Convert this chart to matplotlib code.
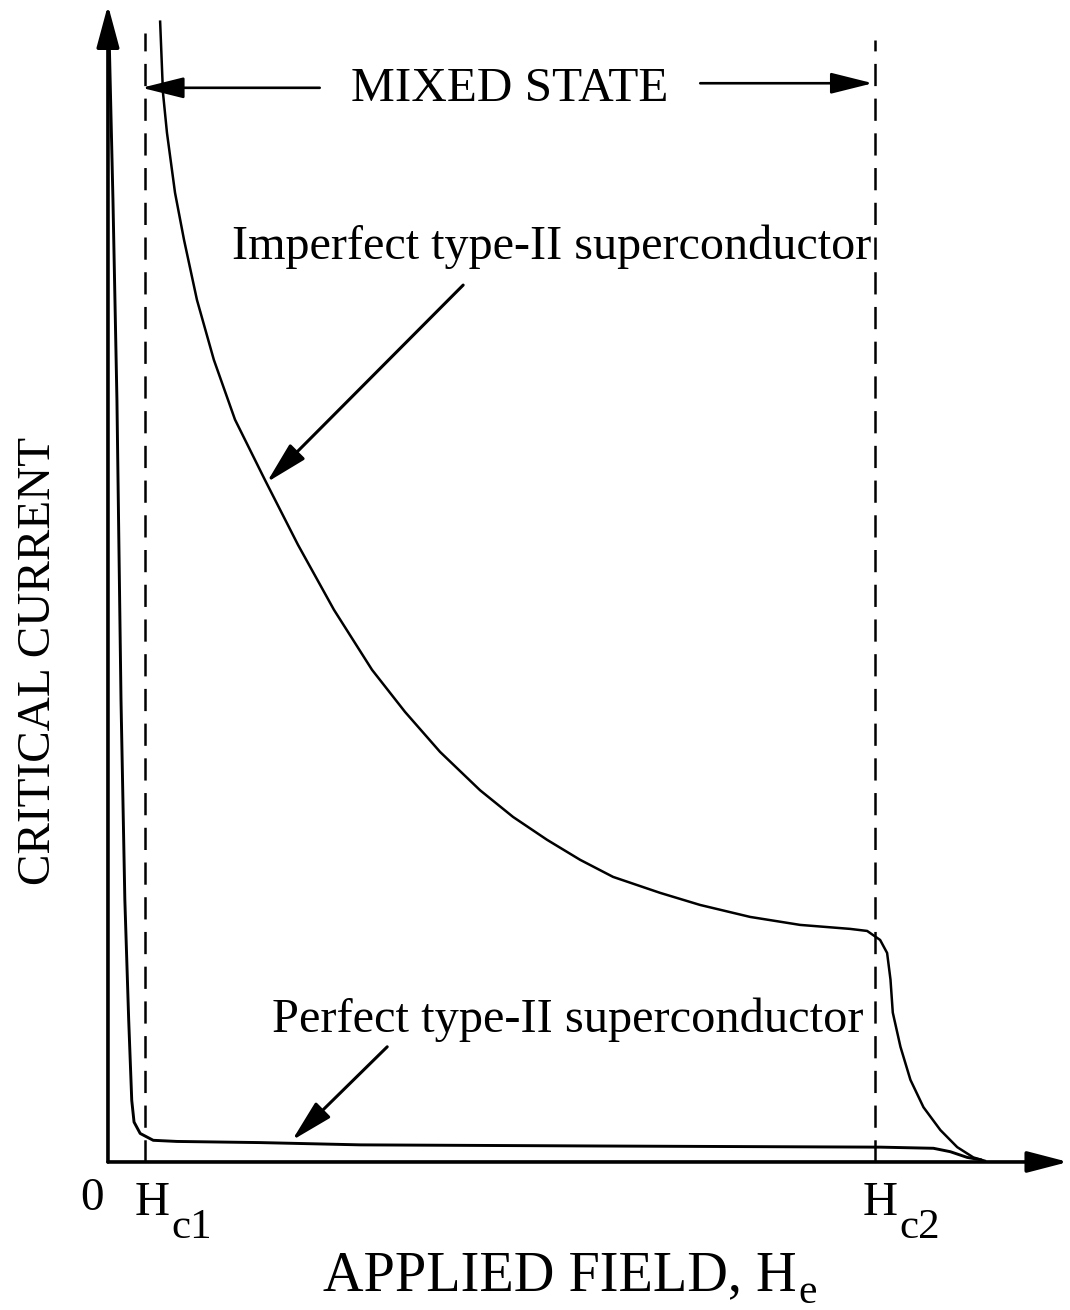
import numpy as np
import matplotlib.pyplot as plt

plt.rcParams['font.family'] = ['Liberation Serif', 'DejaVu Serif']
plt.rcParams['lines.scale_dashes'] = False

# applied field in units of Hc2, critical current in arbitrary units
hc1 = 0.048
hc2 = 1.0

imperfect_h = [0.068, 0.0717, 0.0769, 0.0874, 0.0991, 0.116, 0.138, 0.1656,
               0.2047, 0.2477, 0.2946, 0.3442, 0.3872, 0.4329, 0.485, 0.528,
               0.5724, 0.6154, 0.6584, 0.7197, 0.7718, 0.837, 0.9022, 0.9674,
               0.9896, 1.0065, 1.0156, 1.020, 1.023, 1.033, 1.046, 1.063,
               1.085, 1.107, 1.128, 1.143]
imperfect_j = [1.000, 0.9377, 0.9026, 0.850, 0.8088, 0.756, 0.7035, 0.651,
               0.598, 0.5412, 0.4842, 0.4316, 0.3947, 0.3596, 0.326, 0.3026,
               0.2825, 0.265, 0.250, 0.236, 0.2254, 0.2149, 0.2079, 0.2044,
               0.2026, 0.1947, 0.1833, 0.160, 0.131, 0.101, 0.072, 0.048,
               0.028, 0.013, 0.004, 0.001]

perfect_h = [0.001, 0.0065, 0.0117, 0.017, 0.022, 0.027, 0.031, 0.034, 0.042,
             0.059, 0.090, 0.198, 0.329, 0.641, 1.007, 1.076, 1.098, 1.120, 1.137]
perfect_j = [1.002, 0.844, 0.668, 0.405, 0.230, 0.125, 0.054, 0.035, 0.025,
             0.019, 0.018, 0.017, 0.015, 0.014, 0.013, 0.012, 0.009, 0.004, 0.002]

fig = plt.figure(figsize=(10.7, 13.1), dpi=100)
ax = fig.add_axes([0.1009, 0.1130, 0.8991, 0.8870])
ax.set_xlim(0, 1.254)
ax.set_ylim(0, 1.019)
ax.axis('off')

# axes with arrow heads
ax.annotate('', xy=(0, 1.0145), xytext=(0, 0),
            arrowprops=dict(arrowstyle='-|>,head_length=26,head_width=7',
                            mutation_scale=1, lw=2.6, color='black',
                            shrinkA=0, shrinkB=0))
ax.annotate('', xy=(1.2516, 0), xytext=(0, 0),
            arrowprops=dict(arrowstyle='-|>,head_length=25,head_width=6.5',
                            mutation_scale=1, lw=2.6, color='black',
                            shrinkA=0, shrinkB=0))

# critical fields
ax.plot([hc1, hc1], [0, 0.990], color='black', lw=1.8, ls=(0, (16, 9)),
        clip_on=False)
ax.plot([hc2, hc2], [0, 0.984], color='black', lw=1.8, ls=(0, (16, 9)),
        clip_on=False)

ax.plot(imperfect_h, imperfect_j, color='black', lw=1.8, clip_on=False)
ax.plot(perfect_h, perfect_j, color='black', lw=2.1, clip_on=False)

# mixed state
arrow_kw = dict(arrowstyle='-|>,head_length=26,head_width=6.5',
                mutation_scale=1, lw=1.9, color='black', shrinkA=0, shrinkB=0)
ax.annotate('', xy=(hc1 - 0.004, 0.942), xytext=(0.276, 0.942),
            arrowprops=arrow_kw)
ax.annotate('', xy=(0.997, 0.946), xytext=(0.772, 0.946), arrowprops=arrow_kw)
ax.text(0.523, 0.930, 'MIXED STATE', fontsize=35.5, ha='center', va='baseline')

pointer_kw = dict(arrowstyle='-|>,head_length=26,head_width=6.5',
                  mutation_scale=1, lw=2.2, color='black', shrinkA=0, shrinkB=0)
ax.text(0.162, 0.792, 'Imperfect type-II superconductor', fontsize=34.7,
        ha='left', va='baseline')
ax.annotate('', xy=(0.207, 0.596), xytext=(0.463, 0.769), arrowprops=pointer_kw)
ax.text(0.214, 0.114, 'Perfect type-II superconductor', fontsize=34.8,
        ha='left', va='baseline')
ax.annotate('', xy=(0.240, 0.019), xytext=(0.364, 0.101), arrowprops=pointer_kw)

# tick labels on the field axis
ax.text(-0.0209, -0.0421, '0', fontsize=34, ha='center', va='baseline')
ax.text(0.081, -0.0465, 'H', fontsize=35, ha='right', va='baseline')
ax.text(0.083, -0.0667, 'c1', fontsize=31, ha='left', va='baseline')
ax.text(1.029, -0.0465, 'H', fontsize=35, ha='right', va='baseline')
ax.text(1.031, -0.0667, 'c2', fontsize=31, ha='left', va='baseline')

# axis titles
ax.text(0.898, -0.1123, 'APPLIED FIELD, H', fontsize=40.5, ha='right',
        va='baseline')
ax.text(0.900, -0.1237, 'e', fontsize=30, ha='left', va='baseline')
fig.text(0.0467, 0.4954, 'CRITICAL CURRENT', fontsize=34, rotation=90,
         rotation_mode='anchor', ha='center', va='baseline')

fig.savefig('out.png', dpi=100)
